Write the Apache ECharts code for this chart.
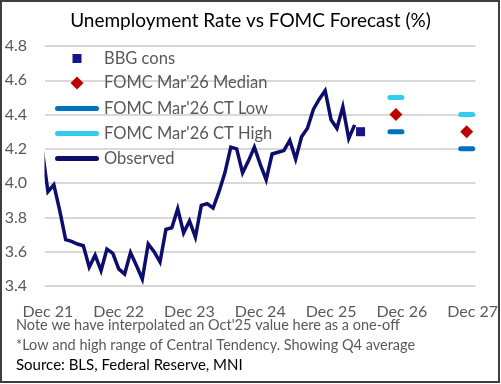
<!DOCTYPE html>
<html>
<head>
<meta charset="utf-8">
<script src="https://cdn.jsdelivr.net/npm/echarts@6/dist/echarts.min.js"></script>
<style>
  html, body { margin: 0; padding: 0; background: #fff; }
  #chart { width: 501px; height: 384px; }
</style>
</head>
<body>
<div id="chart"></div>
<script>
// monthly observed unemployment rate (Nov 21 sits left of the axis min and is cut off)
const months = [
  '2021-11', '2021-12',
  '2022-01', '2022-02', '2022-03', '2022-04', '2022-05', '2022-06',
  '2022-07', '2022-08', '2022-09', '2022-10', '2022-11', '2022-12',
  '2023-01', '2023-02', '2023-03', '2023-04', '2023-05', '2023-06',
  '2023-07', '2023-08', '2023-09', '2023-10', '2023-11', '2023-12',
  '2024-01', '2024-02', '2024-03', '2024-04', '2024-05', '2024-06',
  '2024-07', '2024-08', '2024-09', '2024-10', '2024-11', '2024-12',
  '2025-01', '2025-02', '2025-03', '2025-04', '2025-05', '2025-06',
  '2025-07', '2025-08', '2025-09', '2025-10', '2025-11', '2025-12',
  '2026-01', '2026-02', '2026-03', '2026-04'
]
const observed = [
  4.2, 3.95,
  3.99, 3.84, 3.67, 3.66, 3.645, 3.635,
  3.51, 3.58, 3.49, 3.615, 3.59, 3.50,
  3.47, 3.595, 3.52, 3.44, 3.645, 3.60,
  3.54, 3.73, 3.74, 3.85, 3.71, 3.78,
  3.685, 3.87, 3.88, 3.855, 3.95, 4.06,
  4.21, 4.20, 4.06, 4.13, 4.21, 4.11,
  4.02, 4.17, 4.18, 4.19, 4.25, 4.14,
  4.27, 4.32, 4.43, 4.49, 4.54, 4.37,
  4.32, 4.445, 4.26, 4.34
]

const bbgMonth = ['2026-05']
const bbgCons = [4.30]

// FOMC Mar'26 SEP, Q4 averages plotted mid-quarter
const fomcMonths = ['2026-11', '2027-11']
const fomcMedian = [4.4, 4.3]
const fomcLow = [4.3, 4.2]
const fomcHigh = [4.5, 4.4]

const xTickLabels = ['Dec 21', 'Dec 22', 'Dec 23', 'Dec 24', 'Dec 25', 'Dec 26', 'Dec 27']
const yTicks = [3.4, 3.6, 3.8, 4.0, 4.2, 4.4, 4.6, 4.8]

// months since Dec 2021
function monthIndex(m) {
  const [y, mo] = m.split('-').map(Number)
  return (y - 2021) * 12 + (mo - 12)
}
const pairs = (ms, vs) => ms.map((m, i) => [monthIndex(m), vs[i]])

const FONT = 'Lato'
const GREY = '#595959'
const NAVY = '#0D0D6B'
const SQUARE = '#16168A'
const RED = '#C00000'
const LOW = '#0070C0'
const HIGH = '#33CCEE'

const pill = 'path://M2.5,0H14.5A2.5,2.5,0,0,1,14.5,5H2.5A2.5,2.5,0,0,1,2.5,0Z'
// legend icons are 44px wide boxes; tiny end specks keep the marks centred
const pillLegend = 'path://M2.5,0H41.5A2.5,2.5,0,0,1,41.5,5H2.5A2.5,2.5,0,0,1,2.5,0Z'
const squareLegend = 'path://M0,4.5L0.05,4.5L0,4.55Z M17.5,0H26.5V9H17.5Z M44,4.5L43.95,4.5L44,4.55Z'
const diamondLegend = 'path://M0,6.5L0.05,6.5L0,6.55Z M22,0L28.5,6.5L22,13L15.5,6.5Z M44,6.5L43.95,6.5L44,6.55Z'

function legendItem(name, icon, color, h, center) {
  return {
    left: 55,
    top: center - 8.25,
    padding: 0,
    itemWidth: 44,
    itemHeight: h,
    selectedMode: false,
    textStyle: { color: GREY, fontFamily: FONT, fontSize: 16.5 },
    data: [{ name, icon, itemStyle: { color, opacity: 1 } }]
  }
}

const chart = echarts.init(document.getElementById('chart'), null, { renderer: 'canvas' })

chart.setOption({
  backgroundColor: '#fff',
  animation: false,
  title: {
    text: 'Unemployment Rate vs FOMC Forecast (%)',
    left: 'center',
    top: 11,
    padding: 0,
    textStyle: { color: '#000', fontFamily: FONT, fontSize: 19, fontWeight: 'normal' }
  },
  legend: [
    legendItem('BBG cons', squareLegend, SQUARE, 9, 58.3),
    legendItem("FOMC Mar'26 Median", diamondLegend, RED, 13, 82.7),
    legendItem("FOMC Mar'26 CT Low", pillLegend, LOW, 5, 108.3),
    legendItem("FOMC Mar'26 CT High", pillLegend, HIGH, 5, 133.3),
    legendItem('Observed', pillLegend, NAVY, 5, 158.3)
  ],
  grid: { left: 45, right: 23, top: 46, bottom: 98, containLabel: false },
  xAxis: {
    type: 'value',
    min: -0.5,
    max: 72.5,
    axisLine: { show: false },
    axisTick: { show: false },
    splitLine: { show: false },
    axisLabel: {
      customValues: xTickLabels.map((_, i) => i * 12),
      formatter: (v) => xTickLabels[Math.round(v / 12)],
      color: GREY,
      fontFamily: FONT,
      fontSize: 16,
      margin: 18
    }
  },
  yAxis: {
    type: 'value',
    min: yTicks[0],
    max: yTicks[yTicks.length - 1],
    interval: 0.2,
    axisLine: { show: false },
    axisTick: { show: false },
    splitLine: { lineStyle: { color: '#D9D9D9', width: 2 } },
    axisLabel: {
      formatter: (v) => v.toFixed(1),
      color: GREY,
      fontFamily: FONT,
      fontSize: 16,
      margin: 18
    }
  },
  series: [
    {
      name: 'BBG cons',
      type: 'scatter',
      symbol: 'rect',
      symbolSize: 9,
      itemStyle: { color: SQUARE, opacity: 1 },
      data: pairs(bbgMonth, bbgCons),
      z: 5
    },
    {
      name: "FOMC Mar'26 Median",
      type: 'scatter',
      symbol: 'diamond',
      symbolSize: 13,
      itemStyle: { color: RED, opacity: 1 },
      data: pairs(fomcMonths, fomcMedian)
    },
    {
      name: "FOMC Mar'26 CT Low",
      type: 'scatter',
      symbol: pill,
      symbolSize: [17, 5],
      itemStyle: { color: LOW, opacity: 1 },
      data: pairs(fomcMonths, fomcLow)
    },
    {
      name: "FOMC Mar'26 CT High",
      type: 'scatter',
      symbol: pill,
      symbolSize: [17, 5],
      itemStyle: { color: HIGH, opacity: 1 },
      data: pairs(fomcMonths, fomcHigh)
    },
    {
      name: 'Observed',
      type: 'line',
      symbol: 'none',
      clip: true,
      lineStyle: { color: NAVY, width: 3.5, join: 'miter' },
      itemStyle: { color: NAVY },
      data: pairs(months, observed)
    }
  ],
  graphic: [
    // plot area edge: hides the bit of line left of the axis start
    {
      type: 'rect',
      shape: { x: 30, y: 40, width: 14.5, height: 250 },
      style: { fill: '#fff' },
      silent: true,
      z: 50
    },
    {
      type: 'rect',
      shape: { x: 1, y: 1, width: 498, height: 381 },
      style: { fill: null, stroke: '#3F3F3F', lineWidth: 2 },
      silent: true,
      z: 100
    },
    {
      type: 'text', left: 16, top: 318,
      style: { text: "Note we have interpolated an Oct'25 value here as a one-off", fill: GREY, font: '14.5px Lato' }
    },
    {
      type: 'text', left: 16, top: 338,
      style: { text: '*Low and high range of Central Tendency. Showing Q4 average', fill: GREY, font: '14.5px Lato' }
    },
    {
      type: 'text', left: 16, top: 358,
      style: { text: 'Source: BLS, Federal Reserve, MNI', fill: '#000', font: '15px Lato' }
    }
  ]
})
</script>
</body>
</html>
